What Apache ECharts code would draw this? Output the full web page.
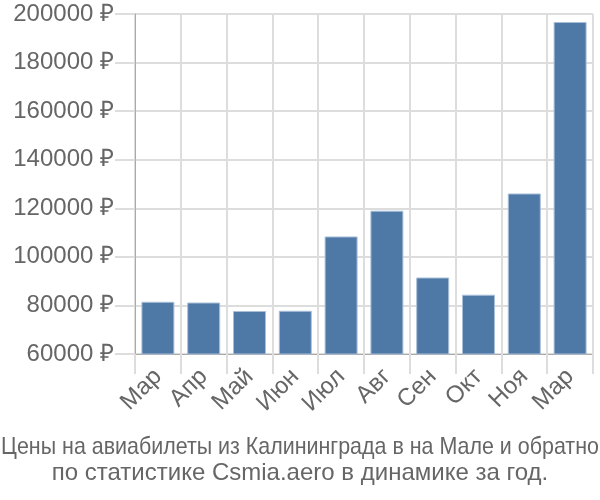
<!DOCTYPE html>
<html><head><meta charset="utf-8">
<script src="https://cdn.jsdelivr.net/npm/echarts@6/dist/echarts.min.js"></script>
<style>html,body{margin:0;padding:0;background:#fff}#c{width:600px;height:500px}</style>
</head><body><div id="c"></div>
<script>
var categories = ["Мар","Апр","Май","Июн","Июл","Авг","Сен","Окт","Ноя","Мар"];
var prices = [81500, 81200, 77700, 77800, 108400, 119000, 91500, 84400, 126100, 196700];
var titleLines = ["Цены на авиабилеты из Калининграда в на Мале и обратно","по статистике Csmia.aero в динамике за год."];
var yMin = 60000, yMax = 200000, yStep = 20000;

var chart = echarts.init(document.getElementById('c'), null, {renderer:'canvas'});
var font = 'Liberation Sans, Arial, sans-serif';
var tfont = '24px "Liberation Sans", Arial, sans-serif';
chart.setOption({
  animation:false,
  graphic:[
    {type:'text', x:300, y:447, scaleX:0.893, silent:true,
     style:{text:titleLines[0], font:tfont, fill:'#666', textAlign:'center', textVerticalAlign:'middle'}},
    {type:'text', x:300, y:473.5, silent:true,
     style:{text:titleLines[1], font:tfont, fill:'#666', textAlign:'center', textVerticalAlign:'middle'}}
  ],
  grid:{left:135,right:7,top:14,bottom:146,containLabel:false},
  xAxis:{type:'category',data:categories,
    axisLine:{lineStyle:{color:'#aaa',width:1}},
    axisTick:{show:true,length:20,alignWithLabel:false,lineStyle:{color:'#ddd',width:2}},
    splitLine:{show:true,lineStyle:{color:'#ddd',width:2}},
    axisLabel:{rotate:45,fontFamily:font,fontSize:24,color:'#666',margin:19,interval:0}},
  yAxis:{type:'value',min:yMin,max:yMax,interval:yStep,
    axisLine:{show:true,lineStyle:{color:'#aaa',width:1}},
    axisTick:{show:true,length:20,lineStyle:{color:'#ddd',width:2}},
    splitLine:{lineStyle:{color:'#ddd',width:2}},
    axisLabel:{fontFamily:font,fontSize:24,color:'#666',margin:21,formatter:function(v){return v+' ₽';}}},
  series:[{type:'bar',data:prices,barCategoryGap:'28%',
    itemStyle:{color:'#4e79a7',borderColor:'#a9bfd8',borderWidth:1}}]
});
</script></body></html>
